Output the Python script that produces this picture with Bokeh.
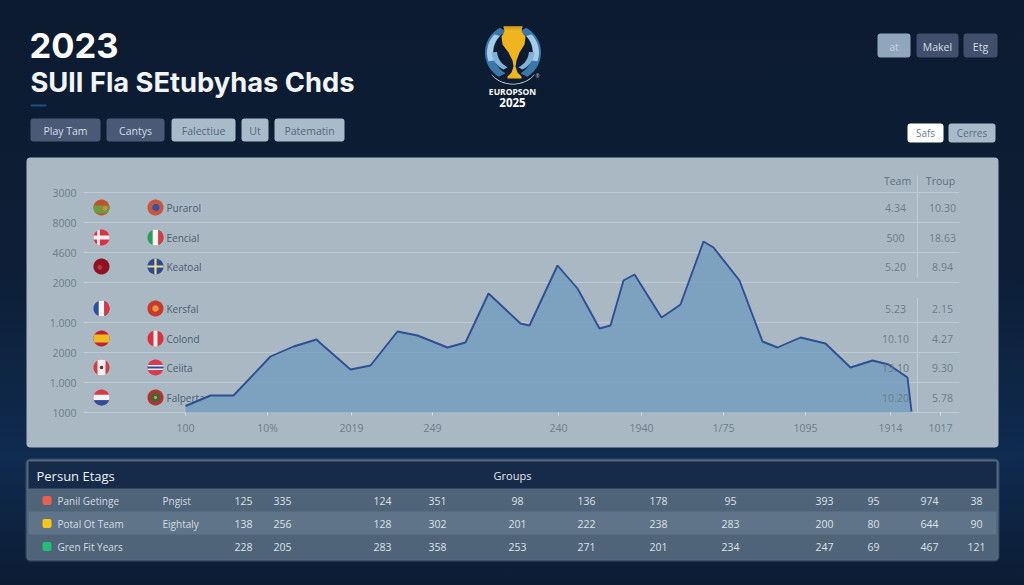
import numpy as np
from bokeh.core.properties import value
from bokeh.embed import file_html
from bokeh.resources import INLINE
from bokeh.plotting import figure
from bokeh.models import Label, BoxAnnotation, PolyAnnotation, FixedTicker, LinearAxis, Grid

# ---------- data ----------
series_x = [102,127,150,187,210,233,237,267,287,314,334,364,382,405,437,446,474,494,516,527,540,551,578,587,597,620,630,656,679,694,717,742,767,789,805,824,828]
series_v = [65,170,170,560,660,730,693,430,470,810,770,650,700,1190,890,870,1470,1240,840,870,1320,1380,950,1010,1080,1710,1650,1320,710,650,750,690,450,520,480,350,10]
y_ticks = [0,300,600,900,1300,1600,1900,2200]
y_labels = ["1000","1.000","2000","1.000","2000","4600","8000","3000"]
x_ticks = [102,184,268,349,475,558,640,722,807,857]
x_labels = ["100","10%","2019","249","240","1940","1/75","1095","1914","1017"]

row_v = [2050,1750,1460,1040,740,450,150]
names = ["Purarol","Eencial","Keatoal","Kersfal","Colond","Ceìita","Falperta"]
team = ["4.34","500","5.20","5.23","10.10","13.10","10.20"]
troup = ["10.30","18.63","8.94","2.15","4.27","9.30","5.78"]

table_names = ["Panil Getinge","Potal Ot Team","Gren Fit Years"]
table_kind = ["Pngist","Eightaly",""]
table_colors = ["#e8604f","#f5c518","#1fbf75"]
table_r1 = ["125","335","124","351","98","136","178","95","393","95","974","38"]
table_r2 = ["138","256","128","302","201","222","238","283","200","80","644","90"]
table_r3 = ["228","205","283","358","253","271","201","234","247","69","467","121"]
table_cols = [243,282,382,437,517,586,658,730,824,873,929,976]

left_btn = [("Play Tam",30,100,"#4a5a76","#d5dde6"),("Cantys",106,164,"#4a5a76","#d5dde6"),
            ("Falectiue",171,235,"#a8bbcb","#56677a"),("Ut",241,268,"#a8bbcb","#56677a"),("Patematin",274,344,"#a8bbcb","#56677a")]
top_btn = [("at",877,910,"#90a6bd","#c6d3df"),("Makel",916,958,"#424f6c","#d5dde6"),("Etg",963,997,"#424f6c","#d5dde6")]
mid_btn = [("Safs",907,943,"#ffffff","#6d7e8d"),("Cerres",948,995,"#a8bbcb","#5b6d7f")]

# ---------- helpers: reference pixels -> chart scale ----------
fx = lambda px: px - 83.0
fy = lambda py: (412.0 - py) * 10.0

p = figure(width=1024, height=585, output_backend="svg", toolbar_location=None,
           x_range=(fx(0), fx(1024)), y_range=(fy(585), fy(0)), min_border=0,
           x_axis_location=None, y_axis_location=None, border_fill_color=None,
           background_fill_color=None, outline_line_color=None)
p.grid.visible = False

FONT = "Open Sans"

def box(x0, y0, x1, y1, color, radius=3, line=None, lw=1, level="annotation"):
    p.add_layout(BoxAnnotation(left=fx(x0), right=fx(x1), top=fy(y0), bottom=fy(y1), fill_color=color,
                               fill_alpha=1, line_color=line, line_width=lw, border_radius=radius, level=level))

def lab(px, py, text, size, color, align="left", bold=False, font=FONT):
    p.add_layout(Label(x=fx(px), y=fy(py), text=text, text_font=font, text_font_size=f"{size}px", text_color=color,
                       text_align=align, text_baseline="middle", text_font_style="bold" if bold else "normal"))

def poly(pts, color):
    pts = np.asarray(pts, float)
    p.add_layout(PolyAnnotation(xs=list(fx(pts[:, 0])), ys=list(fy(pts[:, 1])), fill_color=color, fill_alpha=1, line_color=None))

# panels
box(26, 157, 998, 447, "#a9b8c3", radius=4, level="image")

# header text
lab(29, 45, "2023", 34.5, "#ffffff", bold=True, font="Inter")
lab(30, 82, "SUlI Fla SEtubyhas Chds", 27.3, "#f2f5f8", bold=True, font="Inter")
box(30, 104, 46, 106, "#1d4f8c", radius=1)

for text, x0, x1, col, tc in left_btn:
    box(x0, 118, x1, 141, col)
    lab((x0 + x1) / 2, 130, text, 10.5, tc, "center")
for text, x0, x1, col, tc in top_btn:
    box(x0, 33, x1, 57, col)
    lab((x0 + x1) / 2, 46, text, 10.5, tc, "center")
for text, x0, x1, col, tc in mid_btn:
    box(x0, 123, x1, 142, col)
    lab((x0 + x1) / 2, 132.5, text, 10, tc, "center")

# logo
def crescent(cx1, R1, cx2, R2, a0, a1, cy, color, mirror=False):
    t = np.radians(np.linspace(a0, a1, 30))
    xo = cx1 + R1 * np.cos(t); yo = cy - R1 * np.sin(t)
    xi = cx2 + R2 * np.cos(t[::-1]); yi = cy - R2 * np.sin(t[::-1])
    xs = np.r_[xo, xi]; ys = np.r_[yo, yi]
    if mirror:
        xs = 2 * 512.5 - xs
    poly(np.c_[xs, ys], color)

for m in (False, True):
    crescent(512.5, 28, 517, 24, 118, 240, 52, "#3a78ab", m)
    crescent(512, 25.5, 516, 23.5, 135, 200, 52, "#a7cbe4", m)
    crescent(512, 21, 515, 18.5, 185, 245, 50, "#7fb2d6", m)
poly([(503,26),(522,26),(521,31),(525,36),(524,44),(519,52),(516,60),(515,66),(517,72),(521,76),(521,78),
      (507,78),(507,76),(511,72),(513,66),(512,60),(508,52),(502,44),(501,36),(504,31)], "#f0b41e")
poly([(503,26),(522,26),(521,29),(504,29)], "#d9a01c")
t = np.radians(np.linspace(215, 325, 20))
poly(np.r_[np.c_[512.5 + 26 * np.cos(t), 62 - 22 * np.sin(t)], np.c_[512.5 + 26 * np.cos(t[::-1]), 61.2 - 22 * np.sin(t[::-1])]], "#dfe8f0")
lab(512, 91, "EUROPSON", 8.5, "#ffffff", "center", True)
lab(512, 102, "2025", 11.5, "#ffffff", "center", True)
lab(537, 75, "®", 5, "#b9c6d2", "center")

# chart axes and grid, fixed inside the full-page frame
yt = FixedTicker(ticks=y_ticks)
xt = FixedTicker(ticks=x_ticks)
GRID = dict(grid_line_color="#bfcbd4", grid_line_width=1.1)
if "cross_bounds" in Grid.properties():
    p.add_layout(Grid(dimension=1, ticker=yt, bounds=(0, 2200), cross_bounds=(0, 876), level="underlay", **GRID))
else:
    p.segment(x0=[0] * len(y_ticks), x1=[876] * len(y_ticks), y0=y_ticks, y1=y_ticks, line_color=GRID["grid_line_color"],
              line_width=GRID["grid_line_width"])
yax = LinearAxis(ticker=yt, fixed_location=0, bounds=(0, 2200), major_label_overrides=dict(zip(y_ticks, y_labels)))
xax = LinearAxis(ticker=xt, fixed_location=0, bounds=(0, 876), major_label_overrides=dict(zip(x_ticks, x_labels)))
for ax in (xax, yax):
    ax.axis_line_color = None
    ax.minor_tick_line_color = None
    ax.major_label_text_font = FONT
    ax.major_label_text_font_size = "10.5px"
    ax.major_label_text_color = "#6e7d88"
yax.major_tick_line_color = None
yax.major_label_standoff = 1
xax.major_tick_line_color = "#d5dee4"
xax.major_tick_in = 0
xax.major_tick_out = 3
xax.major_label_standoff = 5
p.add_layout(yax, "left")
p.add_layout(xax, "below")

# flags
def flag_parts(cx, cy, spec):
    out = []
    r = 8.0
    for item in spec:
        kind = item[0]
        if kind == "disc":
            _, dx, dy, rr, col = item
            t = np.linspace(0, 2 * np.pi, 36)
            xs = cx + dx * r + rr * r * np.cos(t)
            ys = cy + dy * r + rr * r * np.sin(t)
        else:
            _, a, b, col = item
            u = np.arcsin(np.linspace(a, b, 14))
            if kind == "h":
                xs = np.r_[cx + r * np.cos(u), cx - r * np.cos(u[::-1])]
                ys = np.r_[cy - r * np.sin(u), cy - r * np.sin(u[::-1])]
            else:
                xs = np.r_[cx + r * np.sin(u), cx + r * np.sin(u[::-1])]
                ys = np.r_[cy + r * np.cos(u), cy - r * np.cos(u[::-1])]
        out.append((list(fx(xs)), list(fy(ys)), col))
    return out

D = lambda c: ("disc", 0, 0, 1, c)
flags_left = [
    [D("#c0512f"), ("h", -0.75, 0.25, "#6f9a3a"), ("disc", 0.45, 0.1, 0.28, "#d98a3a")],
    [D("#e0303f"), ("h", -0.25, 0.25, "#f7f0f0"), ("v", -0.55, -0.2, "#f7f0f0")],
    [D("#8c1224"), ("disc", -0.2, 0.1, 0.3, "#b53a3a")],
    [D("#2b4fa0"), ("v", -0.35, 0.35, "#f5f5f7"), ("v", 0.35, 1, "#e0353f")],
    [D("#c8202c"), ("h", -0.5, 0.5, "#f2b81f")],
    [D("#d83a44"), ("v", -0.5, 0.5, "#f5f0f0"), ("disc", 0, 0, 0.22, "#5a3a44")],
    [D("#d63a44"), ("h", -0.35, 0.35, "#f5f5f7"), ("h", -1, -0.35, "#2b4fa0")],
]
flags_right = [
    [D("#c9553f"), ("disc", 0.05, 0, 0.45, "#2f55a8")],
    [D("#2f9a5a"), ("v", -0.35, 0.35, "#f7f7f5"), ("v", 0.35, 1, "#d83a44")],
    [D("#2c4a8f"), ("h", -0.14, 0.14, "#e8dc98"), ("v", -0.14, 0.14, "#e8dc98")],
    [D("#c9382c"), ("disc", 0, 0, 0.4, "#e09a3c")],
    [D("#d8323f"), ("v", -0.25, 0.25, "#f7f2f2")],
    [D("#d83a50"), ("h", -0.3, 0.3, "#eef0f4"), ("h", -0.12, 0.12, "#2c4a8f")],
    [D("#b0352c"), ("disc", 0, 0, 0.55, "#2f6a3c"), ("disc", 0, 0, 0.2, "#d8a040")],
]
fl_xs, fl_ys, fl_c = [], [], []
for v, fa, fb in zip(row_v, flags_left, flags_right):
    py = 412 - v / 10
    for cx, spec in ((101, fa), (155, fb)):
        for xs, ys, c in flag_parts(cx, py, spec):
            fl_xs.append(xs); fl_ys.append(ys); fl_c.append(c)
p.patches(fl_xs, fl_ys, fill_color=fl_c, line_color=None)

p.text(x=[fx(166)] * len(names), y=row_v, text=names, text_font=value(FONT), text_font_size="10px",
       text_color="#4c5d70", text_baseline="middle")

p.varea(x=series_x, y1=[0] * len(series_x), y2=series_v, fill_color="#739ec0", fill_alpha=0.82)
p.line(x=series_x, y=series_v, line_color="#2f4f94", line_width=1.9)

# right-hand columns
p.text(x=[fx(895)] * 7, y=row_v, text=team, text_font=value(FONT), text_font_size="10.5px", text_color="#6e7d88",
       text_align="center", text_baseline="middle")
p.text(x=[fx(942)] * 7, y=row_v, text=troup, text_font=value(FONT), text_font_size="10.5px", text_color="#6e7d88",
       text_align="center", text_baseline="middle")
p.segment(x0=[fx(917), fx(917)], y0=[fy(277), fy(297)], x1=[fx(917), fx(917)], y1=[fy(175), fy(412)],
          line_color="#bfcbd4", line_width=1)
lab(897, 180, "Team", 10.5, "#5f707d", "center")
lab(940, 180, "Troup", 10.5, "#5f707d", "center")

# bottom table
box(26, 459, 998, 560, "#4f6479", radius=4, line="#64798e", lw=2.5)
box(28, 461, 996, 488, "#162b49", radius=0)
box(28, 511, 996, 534, "#5f7488", radius=0)
lab(36, 475, "Persun Etags", 13, "#eef2f6")
lab(512, 475, "Groups", 11, "#e4eaf0", "center")
for i, (row, py) in enumerate(zip((table_r1, table_r2, table_r3), (500, 523, 546))):
    box(42, py - 4.5, 51, py + 4.5, table_colors[i], radius=2)
    lab(57, py, table_names[i], 10, "#d4dce4")
    if table_kind[i]:
        lab(162, py, table_kind[i], 10, "#d4dce4")
    for cx, val in zip(table_cols, row):
        lab(cx, py, val, 10.5, "#dbe2e9", "center")

html = file_html(p, INLINE)
html = html.replace("<head>", "<head><style>html{height:100%;overflow:hidden;background:linear-gradient(180deg,#0c1b30 0%,#0d1e36 45%,#0f2b50 78%,#0c1c33 100%)}</style>", 1)
open("out.html", "w").write(html)
